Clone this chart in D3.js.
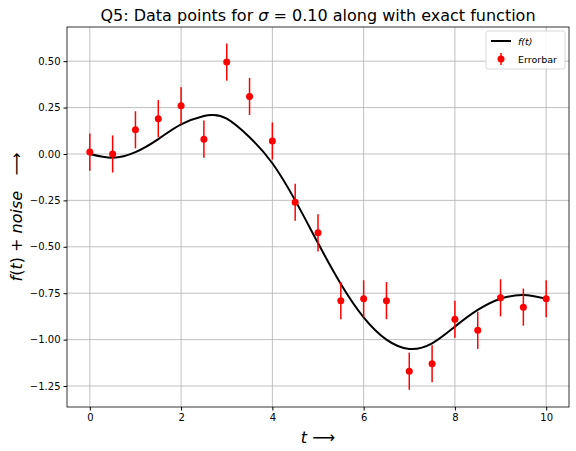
<!DOCTYPE html>
<html><head><meta charset="utf-8">
<script src="https://cdn.jsdelivr.net/npm/d3@7"></script>
<style>body{margin:0;background:#fff}text{font-family:"DejaVu Sans",sans-serif}</style>
</head><body><svg id="c" width="576" height="451"></svg>
<script>
// data
const tData = [0,0.5,1,1.5,2,2.5,3,3.5,4,4.5,5,5.5,6,6.5,7,7.5,8,8.5,9,9.5,10];
const yData = [0.01,0.0,0.13,0.19,0.26,0.08,0.495,0.31,0.07,-0.26,-0.425,-0.79,-0.78,-0.79,-1.17,-1.13,-0.89,-0.95,-0.775,-0.825,-0.78];
const sigma = 0.10;
const tExact = [0,0.5,1,1.5,2,2.5,2.7,3,3.5,4,4.5,5,5.5,6,6.5,7,7.5,8,8.5,9,9.5,10];
const yExact = [0,-0.02,0.01,0.08,0.16,0.205,0.21,0.19,0.09,-0.05,-0.25,-0.48,-0.70,-0.88,-1.0,-1.05,-1.02,-0.93,-0.84,-0.78,-0.76,-0.78];
const xTicks = [0,2,4,6,8,10];
const yTicks = [0.5,0.25,0,-0.25,-0.5,-0.75,-1,-1.25,];

const svg = d3.select('#c');
const L=67,R=569,T=27,B=407;
const x = d3.scaleLinear().domain([-0.5,10.5]).range([L,R]);
const y = d3.scaleLinear().domain([-1.363,0.684]).range([B,T]);

// grid
svg.append('g').selectAll('line').data(xTicks).join('line')
  .attr('x1',d=>x(d)).attr('x2',d=>x(d)).attr('y1',T).attr('y2',B)
  .attr('stroke','#b0b0b0').attr('stroke-width',0.8);
svg.append('g').selectAll('line').data(yTicks).join('line')
  .attr('y1',d=>y(d)).attr('y2',d=>y(d)).attr('x1',L).attr('x2',R)
  .attr('stroke','#b0b0b0').attr('stroke-width',0.8);

// axes
const xa = svg.append('g').attr('transform',`translate(0,${B})`)
  .call(d3.axisBottom(x).tickValues(xTicks).tickSize(3.5).tickPadding(3).tickFormat(d3.format('d')));
const ya = svg.append('g').attr('transform',`translate(${L},0)`)
  .call(d3.axisLeft(y).tickValues(yTicks).tickSize(3.5).tickPadding(3).tickFormat(d3.format('.2f')));
[xa,ya].forEach(a=>{a.select('.domain').remove();a.selectAll('text').attr('font-size',10).attr('fill','#000');});
svg.append('rect').attr('x',L).attr('y',T).attr('width',R-L).attr('height',B-T)
  .attr('fill','none').attr('stroke','#000').attr('stroke-width',0.8);

// exact function
svg.append('path').datum(tExact.map((t,i)=>[t,yExact[i]]))
  .attr('d',d3.line().x(d=>x(d[0])).y(d=>y(d[1])).curve(d3.curveNatural))
  .attr('fill','none').attr('stroke','#000').attr('stroke-width',2);

// error bars
const pts = tData.map((t,i)=>({t,v:yData[i]}));
svg.append('g').selectAll('line').data(pts).join('line')
  .attr('x1',d=>x(d.t)).attr('x2',d=>x(d.t))
  .attr('y1',d=>y(d.v-sigma)).attr('y2',d=>y(d.v+sigma))
  .attr('stroke','red').attr('stroke-width',1.5);
svg.append('g').selectAll('circle').data(pts).join('circle')
  .attr('cx',d=>x(d.t)).attr('cy',d=>y(d.v)).attr('r',3.5).attr('fill','red');

// legend
const lg = svg.append('g').attr('transform',`translate(${R-83},${T+4})`);
lg.append('rect').attr('width',79).attr('height',38).attr('rx',2).attr('fill','#fff')
  .attr('stroke','#ccc').attr('stroke-width',0.8).attr('opacity',0.9);
lg.append('line').attr('x1',5).attr('x2',25).attr('y1',10).attr('y2',10).attr('stroke','#000').attr('stroke-width',2);
lg.append('text').attr('x',32).attr('y',13.5).attr('font-size',9.5).attr('font-style','italic').text('f(t)');
lg.append('line').attr('x1',15).attr('x2',15).attr('y1',22).attr('y2',34).attr('stroke','red').attr('stroke-width',1.5);
lg.append('circle').attr('cx',15).attr('cy',28).attr('r',3.5).attr('fill','red');
lg.append('text').attr('x',32).attr('y',31.5).attr('font-size',9.5).text('Errorbar');

// labels
const title = svg.append('text').attr('x',(L+R)/2).attr('y',21).attr('text-anchor','middle').attr('font-size',16);
title.append('tspan').text('Q5: Data points for ');
title.append('tspan').attr('font-style','italic').text('σ');
title.append('tspan').text(' = 0.10 along with exact function');
svg.append('text').attr('x',(L+R)/2).attr('y',443).attr('text-anchor','middle').attr('font-size',16)
  .html('<tspan font-style="italic">t</tspan>   ⟶');
svg.append('text').attr('transform',`translate(22,${(T+B)/2}) rotate(-90)`).attr('text-anchor','middle').attr('font-size',16)
  .attr('xml:space','preserve')
  .html('<tspan font-style="italic">f</tspan>(<tspan font-style="italic">t</tspan>) + <tspan font-style="italic">noise</tspan>   ⟶');
</script></body></html>
